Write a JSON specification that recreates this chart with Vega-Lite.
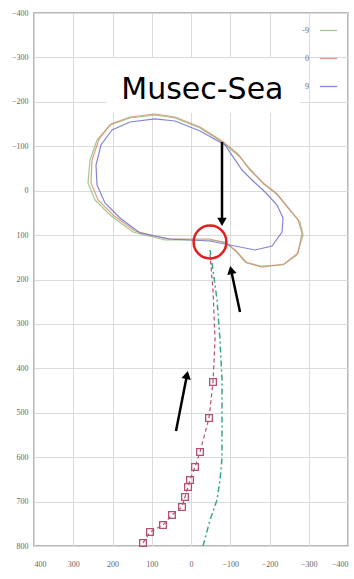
{
  "$schema": "https://vega.github.io/schema/vega-lite/v6.json",
  "width": 314,
  "height": 533,
  "autosize": "none",
  "padding": {"left": 34, "top": 13, "right": 6, "bottom": 33},
  "background": "white",
  "config": {
    "view": {"stroke": "#a0a0a0", "strokeWidth": 1.5},
    "axis": {"labelFont": "Liberation Serif", "labelFontSize": 8, "labelColor": "#666", "gridColor": "#dadada", "gridWidth": 1, "domain": false, "ticks": false, "title": null},
    "legend": {"labelFont": "Liberation Serif", "labelFontSize": 8, "labelColor": "#666", "rowPadding": 14, "symbolSize": 300, "symbolStrokeWidth": 1.3, "orient": "top-right", "offset": 8, "title": null, "labelAlign": "right", "labelOffset": -29}
  },
  "datasets": {
    "loops": [
      {"s": "-9", "i": 0, "x": -48.4, "y": 111.1},
      {"s": "-9", "i": 1, "x": -86.7, "y": 115.6},
      {"s": "-9", "i": 2, "x": -112.1, "y": 133.6},
      {"s": "-9", "i": 3, "x": -137.6, "y": 160.6},
      {"s": "-9", "i": 4, "x": -175.8, "y": 169.6},
      {"s": "-9", "i": 5, "x": -234.5, "y": 167.3},
      {"s": "-9", "i": 6, "x": -270.1, "y": 144.8},
      {"s": "-9", "i": 7, "x": -285.4, "y": 99.8},
      {"s": "-9", "i": 8, "x": -277.8, "y": 70.5},
      {"s": "-9", "i": 9, "x": -252.3, "y": 43.5},
      {"s": "-9", "i": 10, "x": -221.7, "y": 9.8},
      {"s": "-9", "i": 11, "x": -188.6, "y": -12.8},
      {"s": "-9", "i": 12, "x": -150.4, "y": -46.5},
      {"s": "-9", "i": 13, "x": -124.9, "y": -75.8},
      {"s": "-9", "i": 14, "x": -79.0, "y": -109.6},
      {"s": "-9", "i": 15, "x": -23.0, "y": -141.1},
      {"s": "-9", "i": 16, "x": 40.7, "y": -163.6},
      {"s": "-9", "i": 17, "x": 91.7, "y": -170.4},
      {"s": "-9", "i": 18, "x": 155.4, "y": -163.6},
      {"s": "-9", "i": 19, "x": 206.4, "y": -147.8},
      {"s": "-9", "i": 20, "x": 239.5, "y": -114.1},
      {"s": "-9", "i": 21, "x": 257.3, "y": -69.0},
      {"s": "-9", "i": 22, "x": 262.4, "y": -17.3},
      {"s": "-9", "i": 23, "x": 244.6, "y": 21.0},
      {"s": "-9", "i": 24, "x": 206.4, "y": 54.8},
      {"s": "-9", "i": 25, "x": 147.7, "y": 93.1},
      {"s": "-9", "i": 26, "x": 66.2, "y": 111.1},
      {"s": "-9", "i": 27, "x": 2.5, "y": 111.1},
      {"s": "-9", "i": 28, "x": -48.4, "y": 111.1},
      {"s": "0", "i": 0, "x": -48.4, "y": 108.8},
      {"s": "0", "i": 1, "x": -89.2, "y": 117.8},
      {"s": "0", "i": 2, "x": -117.2, "y": 138.1},
      {"s": "0", "i": 3, "x": -142.7, "y": 162.9},
      {"s": "0", "i": 4, "x": -181.0, "y": 171.9},
      {"s": "0", "i": 5, "x": -237.0, "y": 165.1},
      {"s": "0", "i": 6, "x": -272.7, "y": 140.3},
      {"s": "0", "i": 7, "x": -282.9, "y": 95.3},
      {"s": "0", "i": 8, "x": -272.7, "y": 66.0},
      {"s": "0", "i": 9, "x": -247.2, "y": 39.0},
      {"s": "0", "i": 10, "x": -216.6, "y": 5.3},
      {"s": "0", "i": 11, "x": -183.5, "y": -17.3},
      {"s": "0", "i": 12, "x": -145.3, "y": -53.3},
      {"s": "0", "i": 13, "x": -119.8, "y": -82.6},
      {"s": "0", "i": 14, "x": -79.0, "y": -111.8},
      {"s": "0", "i": 15, "x": -23.0, "y": -143.3},
      {"s": "0", "i": 16, "x": 40.7, "y": -165.9},
      {"s": "0", "i": 17, "x": 91.7, "y": -172.6},
      {"s": "0", "i": 18, "x": 155.4, "y": -165.9},
      {"s": "0", "i": 19, "x": 203.8, "y": -150.1},
      {"s": "0", "i": 20, "x": 234.4, "y": -116.3},
      {"s": "0", "i": 21, "x": 252.2, "y": -69.0},
      {"s": "0", "i": 22, "x": 254.8, "y": -17.3},
      {"s": "0", "i": 23, "x": 236.9, "y": 21.0},
      {"s": "0", "i": 24, "x": 198.7, "y": 54.8},
      {"s": "0", "i": 25, "x": 142.6, "y": 90.8},
      {"s": "0", "i": 26, "x": 61.1, "y": 108.8},
      {"s": "0", "i": 27, "x": -48.4, "y": 108.8},
      {"s": "9", "i": 0, "x": -48.4, "y": 113.3},
      {"s": "9", "i": 1, "x": -112.1, "y": 124.6},
      {"s": "9", "i": 2, "x": -163.1, "y": 133.6},
      {"s": "9", "i": 3, "x": -206.4, "y": 124.6},
      {"s": "9", "i": 4, "x": -231.9, "y": 93.1},
      {"s": "9", "i": 5, "x": -234.5, "y": 61.5},
      {"s": "9", "i": 6, "x": -219.2, "y": 32.3},
      {"s": "9", "i": 7, "x": -188.6, "y": 3.0},
      {"s": "9", "i": 8, "x": -155.5, "y": -24.0},
      {"s": "9", "i": 9, "x": -130.0, "y": -46.5},
      {"s": "9", "i": 10, "x": -86.7, "y": -102.8},
      {"s": "9", "i": 11, "x": -23.0, "y": -134.3},
      {"s": "9", "i": 12, "x": 40.7, "y": -156.8},
      {"s": "9", "i": 13, "x": 91.7, "y": -161.4},
      {"s": "9", "i": 14, "x": 155.4, "y": -154.6},
      {"s": "9", "i": 15, "x": 201.3, "y": -136.7},
      {"s": "9", "i": 16, "x": 229.3, "y": -102.8},
      {"s": "9", "i": 17, "x": 242.0, "y": -57.8},
      {"s": "9", "i": 18, "x": 239.5, "y": -12.8},
      {"s": "9", "i": 19, "x": 219.1, "y": 27.8},
      {"s": "9", "i": 20, "x": 180.9, "y": 61.5},
      {"s": "9", "i": 21, "x": 129.9, "y": 95.3},
      {"s": "9", "i": 22, "x": 53.5, "y": 108.8},
      {"s": "9", "i": 23, "x": -48.4, "y": 113.3}
    ],
    "approach": [
      {"i": 0, "x": -30.6, "y": 800},
      {"i": 1, "x": -48.4, "y": 741.5},
      {"i": 2, "x": -66.3, "y": 696.4},
      {"i": 3, "x": -73.9, "y": 651.4},
      {"i": 4, "x": -79.0, "y": 601.9},
      {"i": 5, "x": -79.0, "y": 516.3},
      {"i": 6, "x": -79.0, "y": 426.3},
      {"i": 7, "x": -73.9, "y": 336.2},
      {"i": 8, "x": -66.3, "y": 246.2},
      {"i": 9, "x": -56.1, "y": 178.6},
      {"i": 10, "x": -48.4, "y": 133.6}
    ],
    "track": [
      {"i": 0, "x": 122.3, "y": 793.2, "m": true},
      {"i": 1, "x": 104.4, "y": 768.5, "m": true},
      {"i": 2, "x": 71.3, "y": 752.7, "m": true},
      {"i": 3, "x": 48.4, "y": 730.2, "m": true},
      {"i": 4, "x": 22.9, "y": 712.2, "m": true},
      {"i": 5, "x": 15.3, "y": 689.7, "m": true},
      {"i": 6, "x": 7.6, "y": 667.2, "m": true},
      {"i": 7, "x": 2.5, "y": 651.4, "m": true},
      {"i": 8, "x": -10.2, "y": 622.1, "m": true},
      {"i": 9, "x": -23.0, "y": 588.4, "m": true},
      {"i": 10, "x": -45.9, "y": 511.8, "m": true},
      {"i": 11, "x": -56.1, "y": 430.8, "m": true},
      {"i": 12, "x": -61.2, "y": 336.2, "m": false},
      {"i": 13, "x": -56.1, "y": 223.6, "m": false},
      {"i": 14, "x": -48.4, "y": 144.8, "m": false}
    ],
    "arrows": [
      {"x": -79.0, "y": -109.6, "x2": -79.0, "y2": 70.0, "hx": -79.0, "hy": 70.5, "angle": 180},
      {"x": -124.9, "y": 273.2, "x2": -102.0, "y2": 178.6, "hx": -102.0, "hy": 178.6, "angle": 347.6},
      {"x": 38.2, "y": 541.1, "x2": 10.2, "y2": 415.0, "hx": 10.2, "hy": 415.0, "angle": 11.5}
    ]
  },
  "encoding": {
    "x": {"field": "x", "type": "quantitative", "scale": {"domain": [-400, 400], "reverse": true, "nice": false, "zero": false}, "axis": {"values": [-400, -300, -200, -100, 0, 100, 200, 300, 400], "labelPadding": 14}},
    "y": {"field": "y", "type": "quantitative", "scale": {"domain": [-400, 800], "reverse": true, "nice": false, "zero": false}, "axis": {"values": [-400, -300, -200, -100, 0, 100, 200, 300, 400, 500, 600, 700, 800], "labelPadding": 6}}
  },
  "layer": [
    {
      "data": {"name": "loops"},
      "mark": {"type": "line", "strokeWidth": 1.2, "opacity": 0.85},
      "encoding": {
        "order": {"field": "i", "type": "quantitative"},
        "color": {"field": "s", "type": "nominal", "scale": {"domain": ["-9", "0", "9"], "range": ["#8fc07a", "#d98c72", "#6f6fcc"]}}
      }
    },
    {
      "data": {"name": "approach"},
      "mark": {"type": "line", "color": "#3aa58e", "strokeWidth": 1.5, "strokeDash": [6, 3, 2, 3]},
      "encoding": {"order": {"field": "i", "type": "quantitative"}}
    },
    {
      "data": {"name": "track"},
      "mark": {"type": "line", "color": "#b5506e", "strokeWidth": 1.2, "strokeDash": [4, 3]},
      "encoding": {"order": {"field": "i", "type": "quantitative"}}
    },
    {
      "data": {"name": "track"},
      "transform": [{"filter": "datum.m"}],
      "mark": {"type": "point", "shape": "square", "size": 45, "color": "#b5506e", "filled": false, "strokeWidth": 1.3, "opacity": 1}
    },
    {
      "data": {"values": [{"x": -48.4, "y": 115.6}]},
      "mark": {"type": "point", "shape": "circle", "size": 1075, "filled": false, "color": "#e02020", "strokeWidth": 2.5, "opacity": 1}
    },
    {
      "data": {"name": "arrows"},
      "mark": {"type": "rule", "color": "black", "strokeWidth": 2.5},
      "encoding": {
        "x2": {"field": "x2"},
        "y2": {"field": "y2"}
      }
    },
    {
      "data": {"name": "arrows"},
      "mark": {"type": "point", "shape": "triangle-up", "size": 90, "filled": true, "color": "black", "opacity": 1},
      "encoding": {
        "x": {"field": "hx", "type": "quantitative"},
        "y": {"field": "hy", "type": "quantitative"},
        "angle": {"field": "angle", "type": "quantitative", "scale": null}
      }
    },
    {
      "data": {"values": [{"x1": 216.5, "x2": -277.8, "y1": -298.7, "y2": -174.9}]},
      "mark": {"type": "rect", "color": "white", "opacity": 1},
      "encoding": {
        "x": {"field": "x1", "type": "quantitative"},
        "x2": {"field": "x2"},
        "y": {"field": "y1", "type": "quantitative"},
        "y2": {"field": "y2"}
      }
    },
    {
      "data": {"values": [{"label": "Musec-Sea", "x": -29, "y": -206}]},
      "mark": {"type": "text", "font": "DejaVu Sans", "fontSize": 30, "color": "black", "baseline": "alphabetic", "align": "center"},
      "encoding": {"text": {"field": "label"}}
    }
  ]
}
